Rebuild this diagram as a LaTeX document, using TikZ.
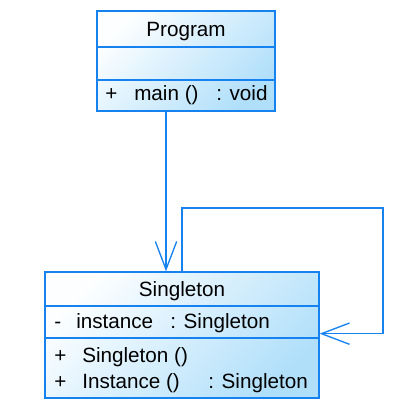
\documentclass[tikz,border=0pt]{standalone}
\usepackage{fontspec}
\setmainfont{Liberation Sans}
\usetikzlibrary{positioning,fit,backgrounds,arrows.meta}
\definecolor{umlblue}{RGB}{22,130,240}
\definecolor{umlfill}{RGB}{176,223,250}
\definecolor{umltop}{RGB}{252,254,255}

\begin{document}
\begin{tikzpicture}[
  x=0.75pt, y=-0.75pt,
  font=\fontsize{15.5}{18}\selectfont,
  part/.style={draw=umlblue, line width=1pt, inner sep=0pt, text depth=0pt},
  clsbg/.style={inner sep=0pt, shading=axis, top color=umltop,
                bottom color=umlfill, shading angle=45},
  mbr/.style={anchor=base west, inner sep=0pt},
  assoc/.style={-{Straight Barb[length=21pt, width=16pt]}, line width=1pt,
                draw=umlblue},
]
\useasboundingbox (0,0) rectangle (420,409);

% ---- class Program ----
\node[part, minimum width=133.5pt, minimum height=27pt] (prog) at (186, 29) {Program};
\node[part, minimum width=133.5pt, minimum height=24.75pt] (progattr) at (186, 63.5) {};
\node[part, minimum width=133.5pt, minimum height=23.25pt] (progops) at (186, 95.5) {};
\node[mbr] (pplus) at (105, 101) {+};
\node[mbr] (pmain) at (134, 101) {main ()};
\node[mbr] (pvoid) at (216, 101) {: void};

% ---- class Singleton ----
\node[part, minimum width=205.5pt, minimum height=25.5pt] (sgl) at (182, 289) {Singleton};
\node[part, minimum width=205.5pt, minimum height=24pt] (sglattr) at (182, 322) {};
\node[part, minimum width=205.5pt, minimum height=45pt] (sglops) at (182, 368) {};
\node[mbr] (aminus) at (54, 328) {-};
\node[mbr] (ainst) at (76, 328) {instance};
\node[mbr] (atype) at (170, 328) {: Singleton};
\node[mbr] (oplus1) at (54, 362) {+};
\node[mbr] (octor) at (82, 362) {Singleton ()};
\node[mbr] (oplus2) at (54, 388) {+};
\node[mbr] (oget) at (82, 388) {Instance ()};
\node[mbr] (otype) at (208, 388) {: Singleton};

\begin{scope}[on background layer]
  \node[clsbg, fit=(prog)(progops)] (progbg) {};
  \node[clsbg, fit=(sgl)(sglops)] (sglbg) {};
\end{scope}

% ---- associations ----
\coordinate (down) at (166, 0);
\coordinate (loop) at (383, 208);
\draw[assoc] (progops.south -| down) -- (sgl.north -| down);
\draw[assoc] (sgl.north) |- (loop) |- ([yshift=3.75pt]sglattr.south east);
\end{tikzpicture}
\end{document}
